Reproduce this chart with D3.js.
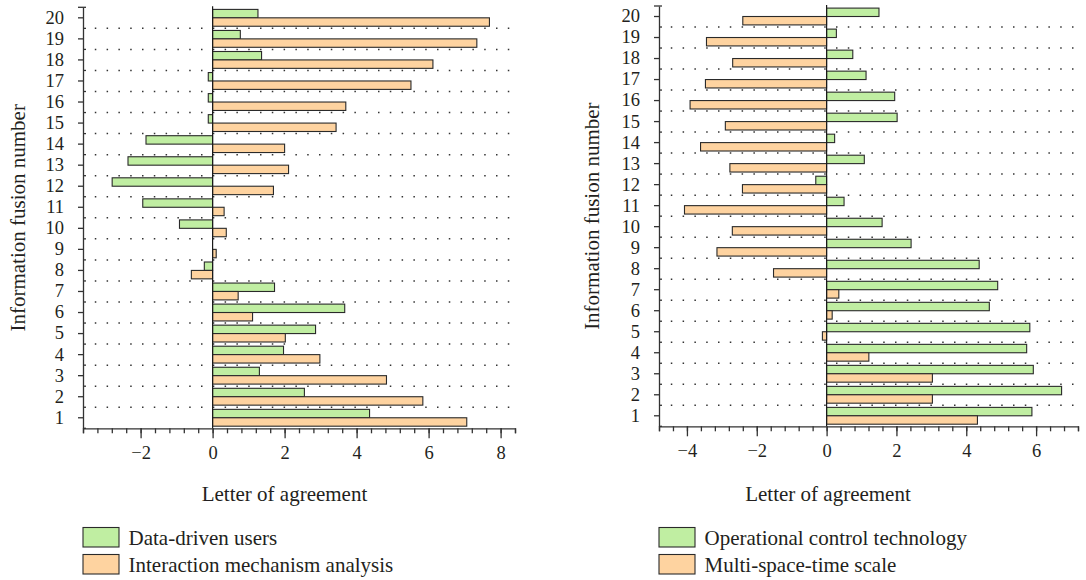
<!DOCTYPE html>
<html>
<head>
<meta charset="utf-8">
<script src="https://cdn.jsdelivr.net/npm/d3@7"></script>
<style>
  body { margin: 0; background: #fff; }
  svg text { font-family: "Liberation Serif", "Times New Roman", serif; fill: #231f20; }
</style>
</head>
<body>
<svg id="chart"></svg>
<script>
// Categories (information fusion number 1..20)
const categories = ["1","2","3","4","5","6","7","8","9","10","11","12","13","14","15","16","17","18","19","20"];

// Left panel series
const dataDrivenUsers = [4.36, 2.55, 1.30, 1.97, 2.86, 3.67, 1.72, -0.23, 0, -0.92,
                         -1.94, -2.79, -2.35, -1.85, -0.12, -0.12, -0.12, 1.36, 0.77, 1.26];
const interactionMechanism = [7.06, 5.84, 4.83, 2.98, 2.02, 1.11, 0.71, -0.59, 0.10, 0.38,
                              0.32, 1.69, 2.11, 2.00, 3.43, 3.70, 5.51, 6.12, 7.34, 7.69];

// Right panel series
const operationalControl = [5.88, 6.73, 5.92, 5.73, 5.82, 4.66, 4.90, 4.37, 2.42, 1.59,
                            0.50, -0.31, 1.08, 0.23, 2.02, 1.95, 1.13, 0.75, 0.28, 1.50];
const multiSpaceTime = [4.32, 3.03, 3.03, 1.21, -0.12, 0.16, 0.35, -1.52, -3.14, -2.70,
                        -4.07, -2.41, -2.77, -3.61, -2.90, -3.91, -3.47, -2.69, -3.44, -2.40];

// Axis ticks
const leftXTicks = [-2, 0, 2, 4, 6, 8];
const rightXTicks = [-4, -2, 0, 2, 4, 6];
const leftXDomain = [-3.6, 8.4];
const rightXDomain = [-4.8, 7.2];

const yTitle = "Information fusion number";
const xTitle = "Letter of agreement";
const greenFill = "#c0eea2";
const orangeFill = "#fed3a0";
const tickFont = 18.5;
const titleFont = 21;

const svg = d3.select("#chart").attr("width", 1086).attr("height", 580);

// Draw one panel of the figure
const drawPanel = (p) => {
   const x = d3.scaleLinear().domain(p.domain).range(p.xRange);
   const y = d3.scaleBand().domain(categories).range(p.yRange)
               .paddingInner(0.2).paddingOuter(0.1);
   const sub = d3.scaleBand().domain(["a", "b"]).range([0, y.bandwidth()]);
   const g = svg.append("g");
   const top = p.yRange[1], bottom = p.yRange[0];

   // dotted separators between categories
   for (let i = 1; i < categories.length; i++) {
      const yy = top + i * y.step();
      g.append("line")
         .attr("x1", p.xRange[0] + 11.8).attr("x2", p.xRange[1] + 1)
         .attr("y1", yy).attr("y2", yy)
         .attr("stroke", "#333").attr("stroke-width", 1.5)
         .attr("stroke-dasharray", "1.5 10.3");
   }

   // bars
   const series = [{key: "a", vals: p.green, fill: greenFill},
                   {key: "b", vals: p.orange, fill: orangeFill}];
   series.forEach((s) => {
      g.selectAll(null).data(categories).enter().append("rect")
         .attr("x", (d, i) => x(Math.min(0, s.vals[i])))
         .attr("width", (d, i) => Math.abs(x(s.vals[i]) - x(0)))
         .attr("y", (d) => y(d) + sub(s.key))
         .attr("height", sub.bandwidth())
         .attr("fill", s.fill)
         .attr("stroke", "#2a2a2a")
         .attr("stroke-width", 1.1);
   });

   // zero line
   g.append("line")
      .attr("x1", x(0)).attr("x2", x(0))
      .attr("y1", top - 1).attr("y2", bottom)
      .attr("stroke", "#1a1a1a").attr("stroke-width", 1.2);

   // x axis: minor then major ticks
   const minorTicks = d3.range(p.domain[0], p.domain[1] + 0.01, 0.4);
   g.append("g").attr("transform", `translate(0,${bottom})`)
      .call(d3.axisBottom(x).tickValues(minorTicks).tickSize(5).tickFormat(""))
      .call((a) => a.selectAll("line,path").attr("stroke", "#333").attr("stroke-width", 1.3));
   const xAx = g.append("g").attr("transform", `translate(0,${bottom})`)
      .call(d3.axisBottom(x).tickValues(p.ticks).tickSize(10).tickPadding(8));
   xAx.select(".domain").remove();
   xAx.selectAll("line").attr("stroke", "#333").attr("stroke-width", 1.3);
   xAx.selectAll("text").attr("font-size", tickFont).attr("font-family", null);

   // y axis: category ticks outward, separator ticks inward
   const yAx = g.append("g").attr("transform", `translate(${p.xRange[0]},0)`)
      .call(d3.axisLeft(y).tickSize(5).tickSizeOuter(0).tickPadding(14));
   yAx.selectAll("line,path").attr("stroke", "#333").attr("stroke-width", 1.3);
   yAx.selectAll("text").attr("font-size", tickFont).attr("font-family", null);
   for (let i = 0; i <= categories.length; i++) {
      const yy = top + i * y.step();
      g.append("line")
         .attr("x1", p.xRange[0] - (i === 0 ? 5 : 0)).attr("x2", p.xRange[0] + 3)
         .attr("y1", yy).attr("y2", yy)
         .attr("stroke", "#333").attr("stroke-width", 1.3);
   }

   // titles
   g.append("text")
      .attr("transform", `translate(${p.yTitleX},${(top + bottom) / 2}) rotate(-90)`)
      .attr("text-anchor", "middle").attr("font-size", titleFont)
      .text(yTitle);
   g.append("text")
      .attr("x", p.xTitleX).attr("y", 501)
      .attr("text-anchor", "middle").attr("font-size", titleFont)
      .text(xTitle);

   // legend
   const leg = g.append("g").attr("transform", `translate(${p.xRange[0]},527.5)`);
   p.legend.forEach((name, i) => {
      leg.append("rect")
         .attr("x", 0).attr("y", i * 27)
         .attr("width", 36).attr("height", 19.5)
         .attr("fill", i === 0 ? greenFill : orangeFill)
         .attr("stroke", "#2a2a2a").attr("stroke-width", 1.1);
      leg.append("text")
         .attr("x", 45.5).attr("y", i * 27 + 17.5)
         .attr("font-size", titleFont)
         .text(name);
   });
};

drawPanel({
   domain: leftXDomain, ticks: leftXTicks,
   xRange: [83, 515], yRange: [428.3, 7.3],
   green: dataDrivenUsers, orange: interactionMechanism,
   yTitleX: 25, xTitleX: 284.5,
   legend: ["Data-driven users", "Interaction mechanism analysis"]
});

drawPanel({
   domain: rightXDomain, ticks: rightXTicks,
   xRange: [659, 1078], yRange: [426.3, 6],
   green: operationalControl, orange: multiSpaceTime,
   yTitleX: 599, xTitleX: 828,
   legend: ["Operational control technology", "Multi-space-time scale"]
});
</script>
</body>
</html>
